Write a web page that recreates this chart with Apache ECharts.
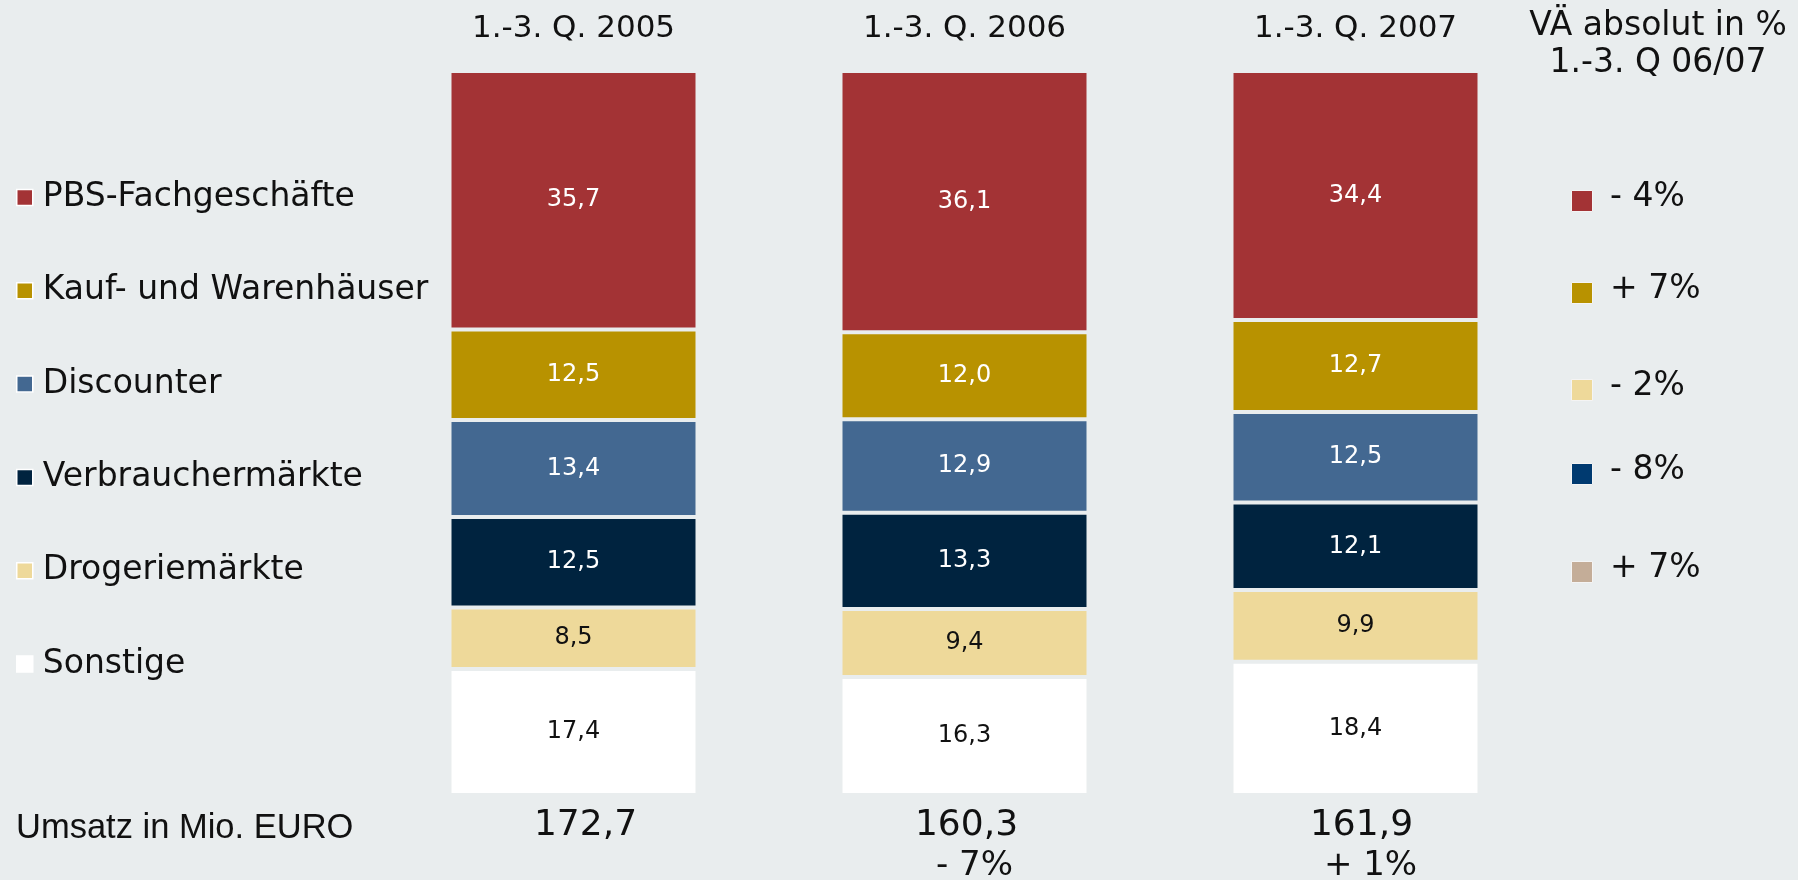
<!DOCTYPE html>
<html>
<head>
<meta charset="utf-8">
<script src="https://cdn.jsdelivr.net/npm/echarts@6/dist/echarts.min.js"></script>
<style>
html, body { margin: 0; padding: 0; background: #e9edee; }
#myChart { width: 1798px; height: 880px; }
</style>
</head>
<body>
<div id="myChart"></div>
<script>
// Perioden (Kopfzeile)
var periods = ['1.-3. Q. 2005', '1.-3. Q. 2006', '1.-3. Q. 2007'];
// Umsatz in Mio. EURO + Veränderung
var totals = ['172,7', '160,3', '161,9'];
var totalChange = ['', '- 7%', '+ 1%'];

// Anteile in %, je Vertriebskanal
var pbs = [35.7, 36.1, 34.4];
var kauf = [12.5, 12.0, 12.7];
var discounter = [13.4, 12.9, 12.5];
var verbraucher = [12.5, 13.3, 12.1];
var drogerie = [8.5, 9.4, 9.9];
var sonstige = [17.4, 16.3, 18.4];

// VÄ absolut in % 1.-3. Q 06/07
var changeLabels = ['- 4%', '+ 7%', '- 2%', '- 8%', '+ 7%'];
var changeColors = ['#a33335', '#b89200', '#eed99a', '#003a70', '#c4ad98'];

var font = "'DejaVu Sans', Verdana, sans-serif";
var bg = '#e9edee';

function makeSeries(name, data, color, labelColor) {
    return {
        name: name,
        type: 'bar',
        stack: 'all',
        barWidth: 248,
        data: data,
        itemStyle: { color: color, borderColor: bg, borderWidth: 2 },
        label: {
            show: true,
            position: 'inside',
            color: labelColor,
            fontFamily: font,
            fontSize: 24,
            formatter: function (p) { return p.value.toFixed(1).replace('.', ','); }
        }
    };
}

// Rechte Legende (VÄ) als Grafik
var rightY = [200, 292, 389, 473, 571];
var graphics = [];
changeLabels.forEach(function (t, i) {
    graphics.push({
        type: 'rect', left: 1571, top: rightY[i] - 10,
        shape: { width: 21, height: 21 },
        style: { fill: changeColors[i], stroke: '#f4f4f4', lineWidth: 1 }
    });
    graphics.push({
        type: 'text', left: 1610, top: rightY[i] - 19,
        style: { text: t, fill: '#111', font: '33px ' + font }
    });
});
graphics.push({
    type: 'text', x: 1658, y: 8,
    style: { text: 'VÄ absolut in %\n1.-3. Q 06/07', fill: '#111', font: '33px ' + font,
             textAlign: 'center', lineHeight: 37 }
});
graphics.push({
    type: 'text', left: 16, top: 811,
    style: { text: 'Umsatz in Mio. EURO', fill: '#111', font: "34.5px 'Liberation Sans', Arial, sans-serif" }
});

// Textstile für die Umsatzzeile (leicht nach rechts versetzt wie im Original)
var totalRich = {
    t0: { fontFamily: font, fontSize: 36, lineHeight: 40, color: '#111', padding: [0, 0, 0, 24] },
    t1: { fontFamily: font, fontSize: 36, lineHeight: 40, color: '#111', padding: [0, 0, 0, 4] },
    t2: { fontFamily: font, fontSize: 36, lineHeight: 40, color: '#111', padding: [0, 0, 0, 12] },
    c1: { fontFamily: font, fontSize: 34, lineHeight: 40, color: '#111', padding: [0, 0, 0, 20] },
    c2: { fontFamily: font, fontSize: 34, lineHeight: 40, color: '#111', padding: [0, 0, 0, 30] }
};

var myChart = echarts.init(document.getElementById('myChart'));
myChart.setOption({
    backgroundColor: bg,
    animation: false,
    grid: { left: 378, width: 1173, top: 71, height: 724, outerBoundsMode: 'none', containLabel: false },
    legend: {
        orient: 'vertical',
        left: 16,
        top: 181,
        padding: 0,
        itemGap: 60.3,
        itemWidth: 16,
        itemHeight: 16,
        icon: 'rect',
        selectedMode: false,
        data: ['PBS-Fachgeschäfte', 'Kauf- und Warenhäuser', 'Discounter',
               'Verbrauchermärkte', 'Drogeriemärkte', 'Sonstige'],
        itemStyle: { borderColor: '#ffffff', borderWidth: 1.5 },
        textStyle: { fontFamily: font, fontSize: 33, lineHeight: 33, color: '#111', padding: [0, 0, 0, 5] }
    },
    xAxis: [{
        type: 'category',
        position: 'top',
        data: periods,
        axisLine: { show: false },
        axisTick: { show: false },
        axisLabel: { fontFamily: font, fontSize: 31, color: '#111', margin: 27 }
    }, {
        type: 'category',
        position: 'bottom',
        data: totals,
        axisLine: { show: false },
        axisTick: { show: false },
        axisLabel: {
            fontFamily: font, fontSize: 36, lineHeight: 40, color: '#111', margin: 11,
            formatter: function (v, i) {
                var s = '{t' + i + '|' + v + '}';
                return totalChange[i] ? s + '\n{c' + i + '|' + totalChange[i] + '}' : s;
            },
            rich: totalRich
        }
    }],
    yAxis: { type: 'value', min: 0, max: 100, show: false },
    series: [
        makeSeries('Sonstige', sonstige, '#ffffff', '#111'),
        makeSeries('Drogeriemärkte', drogerie, '#eed99a', '#111'),
        makeSeries('Verbrauchermärkte', verbraucher, '#00233f', '#ffffff'),
        makeSeries('Discounter', discounter, '#436891', '#ffffff'),
        makeSeries('Kauf- und Warenhäuser', kauf, '#b89200', '#ffffff'),
        makeSeries('PBS-Fachgeschäfte', pbs, '#a33335', '#ffffff')
    ],
    graphic: graphics
});
</script>
</body>
</html>
